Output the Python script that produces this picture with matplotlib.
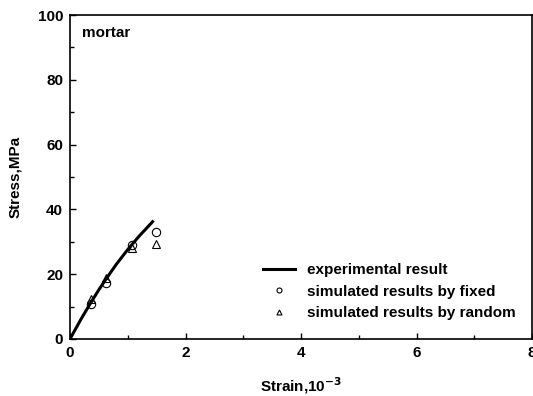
import matplotlib.pyplot as plt
from matplotlib.ticker import MultipleLocator

plt.rcParams['font.family'] = ['Liberation Sans', 'DejaVu Sans']
plt.rcParams['font.weight'] = 'bold'

# experimental curve (strain in 1e-3, stress in MPa)
exp_strain = [0, 0.1, 0.2, 0.36, 0.5, 0.62, 0.8, 1.0, 1.07, 1.2, 1.43]
exp_stress = [0, 3.2, 6.4, 11.2, 15.2, 18.4, 23.0, 27.6, 29.1, 31.8, 36.2]

# simulated points
sim_strain = [0.36, 0.62, 1.07, 1.49]
fixed_stress = [10.8, 17.2, 29.0, 32.9]
random_stress = [12.2, 18.9, 28.2, 29.4]

fs = 11

fig = plt.figure(figsize=(5.33, 3.96), dpi=100)
ax = fig.add_axes([0.1313, 0.144, 0.867, 0.818])

ax.plot(exp_strain, exp_stress, color='black', lw=2.2, label='experimental result')
ax.plot(sim_strain, fixed_stress, ls='none', marker='o', ms=6, mfc='none', mec='black',
        mew=0.8, label='simulated results by fixed')
ax.plot(sim_strain, random_stress, ls='none', marker='^', ms=6, mfc='none', mec='black',
        mew=0.8, label='simulated results by random')

ax.set_xlim(0, 8)
ax.set_ylim(0, 100)
ax.xaxis.set_major_locator(MultipleLocator(2))
ax.xaxis.set_minor_locator(MultipleLocator(1))
ax.yaxis.set_major_locator(MultipleLocator(20))
ax.yaxis.set_minor_locator(MultipleLocator(10))
ax.tick_params(which='both', direction='in', labelsize=fs, top=False, right=False)
ax.tick_params(which='major', length=4, width=1, pad=5)
ax.tick_params(which='minor', length=3, width=1)
for s in ax.spines.values():
    s.set_linewidth(1.2)

ax.set_xlabel('Strain,10$^{\\mathbf{-3}}$', fontsize=fs, fontweight='bold', labelpad=11)
ax.set_ylabel('Stress,MPa', fontsize=fs, fontweight='bold', labelpad=11)
ax.text(0.025, 0.945, 'mortar', transform=ax.transAxes, fontsize=fs, fontweight='bold',
        va='center', ha='left')

ax.legend(loc='lower right', bbox_to_anchor=(0.995, 0.015), frameon=False, fontsize=fs,
          markerscale=0.6, handlelength=2.1, handletextpad=0.8, labelspacing=0.5)

fig.savefig('out.png', dpi=100)
